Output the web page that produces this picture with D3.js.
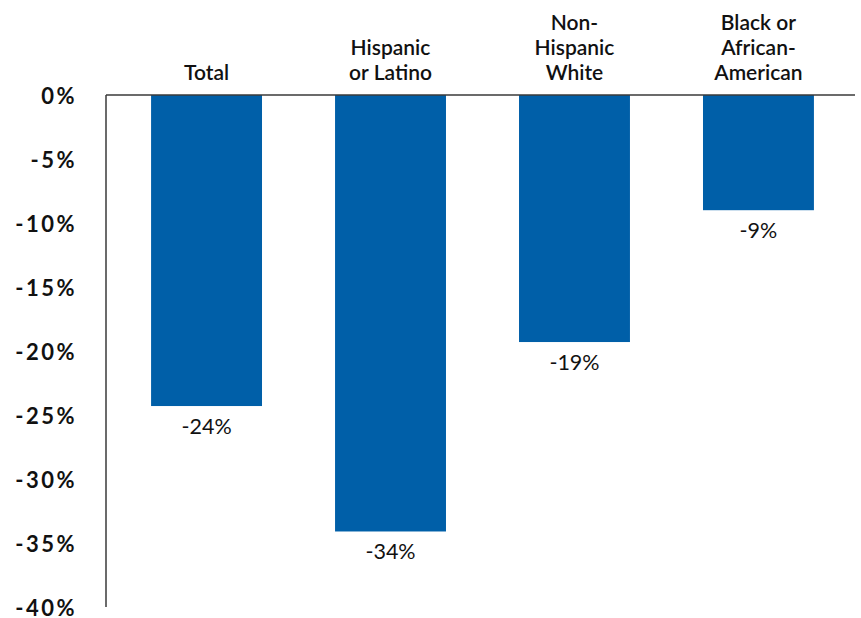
<!DOCTYPE html>
<html>
<head>
<meta charset="utf-8">
<script src="https://cdn.jsdelivr.net/npm/d3@7"></script>
<style>
  html, body { margin: 0; padding: 0; background: #fff; }
  svg { display: block; font-family: Lato, "Open Sans", sans-serif; }
</style>
</head>
<body>
<svg id="chart" width="861" height="618"></svg>
<script>
// Percent change by group
const categories = ["Total", "Hispanic or Latino", "Non-Hispanic White", "Black or African-American"];
const categoryLines = [["Total"], ["Hispanic", "or Latino"], ["Non-", "Hispanic", "White"], ["Black or", "African-", "American"]];
const values = [-24.3, -34.1, -19.3, -9.0];
const yTicks = [0, -5, -10, -15, -20, -25, -30, -35, -40];

const svg = d3.select("#chart");
const barColor = "#005FA8";
const axisColor = "#3a3a3a";

const x = d3.scaleBand()
  .domain(categories)
  .range([106, 859])
  .paddingInner(0.397)
  .paddingOuter(0.245);

const y = d3.scaleLinear()
  .domain([-40, 0])
  .range([607, 95]);

// Percent text with a plain hyphen for negatives
const pct = d => (d < 0 ? "-" : "") + Math.abs(Math.round(d)) + "%";

// Bars hang down from the zero line
svg.append("g").selectAll("rect")
  .data(values)
  .join("rect")
  .attr("x", (d, i) => x(categories[i]))
  .attr("y", y(0))
  .attr("width", x.bandwidth())
  .attr("height", d => y(d) - y(0))
  .attr("fill", barColor);

// Left axis line and zero line
svg.append("line")
  .attr("x1", 106).attr("x2", 106)
  .attr("y1", y(0)).attr("y2", y(-40))
  .attr("stroke", axisColor).attr("stroke-width", 1.5);
svg.append("line")
  .attr("x1", 106).attr("x2", 855)
  .attr("y1", y(0)).attr("y2", y(0))
  .attr("stroke", axisColor).attr("stroke-width", 1.5);

// Y tick labels
svg.append("g").selectAll("text")
  .data(yTicks)
  .join("text")
  .attr("x", 77)
  .attr("y", d => y(d) + 9)
  .attr("text-anchor", "end")
  .attr("font-size", 22)
  .attr("font-weight", 700)
  .attr("letter-spacing", 2.5)
  .attr("fill", "#111")
  .text(pct);

// Category labels above the zero line, bottom-aligned
const lineH = 25;
svg.append("g").selectAll("text")
  .data(categoryLines)
  .join("text")
  .attr("text-anchor", "middle")
  .attr("font-size", 21)
  .attr("font-weight", 600)
  .attr("fill", "#111")
  .each(function(lines, i) {
    const cx = x(categories[i]) + x.bandwidth() / 2;
    d3.select(this).selectAll("tspan")
      .data(lines)
      .join("tspan")
      .attr("x", cx)
      .attr("y", (l, j) => 80 - (lines.length - 1 - j) * lineH)
      .text(l => l);
  });

// Value labels below each bar
svg.append("g").selectAll("text")
  .data(values)
  .join("text")
  .attr("x", (d, i) => x(categories[i]) + x.bandwidth() / 2)
  .attr("y", d => y(d) + 28)
  .attr("text-anchor", "middle")
  .attr("font-size", 21.5)
  .attr("fill", "#111")
  .text(pct);
</script>
</body>
</html>
